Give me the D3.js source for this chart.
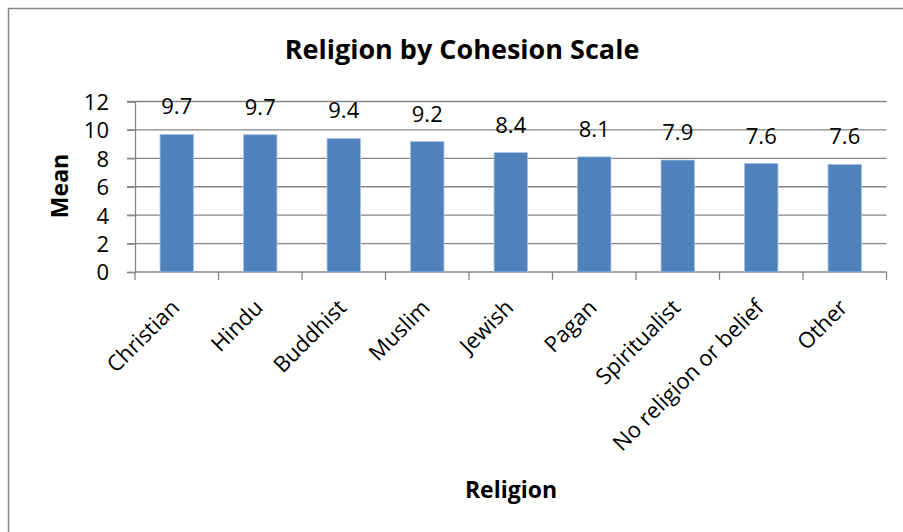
<!DOCTYPE html>
<html>
<head>
<meta charset="utf-8">
<script src="https://cdn.jsdelivr.net/npm/d3@7"></script>
<style>
  body { margin: 0; background: #fff; }
  text { font-family: "Open Sans", sans-serif; fill: #000; }
</style>
</head>
<body>
<div id="chart"></div>
<script>
var religions = ["Christian", "Hindu", "Buddhist", "Muslim", "Jewish", "Pagan", "Spiritualist", "No religion or belief", "Other"];
var means = [9.68, 9.66, 9.4, 9.18, 8.4, 8.1, 7.88, 7.63, 7.57];
var yTicks = [0, 2, 4, 6, 8, 10, 12];

var width = 903, height = 532;
var plot = { left: 135, right: 886.5, top: 101.5, bottom: 272 };

var svg = d3.select("#chart").append("svg")
  .attr("width", width)
  .attr("height", height);

// chart border (runs off the right and bottom edge like the original)
svg.append("rect")
  .attr("x", 8.5).attr("y", 8.5)
  .attr("width", 920).attr("height", 560)
  .attr("fill", "none")
  .attr("stroke", "#868686")
  .attr("stroke-width", 1.5);

var x = d3.scaleBand()
  .domain(religions)
  .range([plot.left, plot.right])
  .paddingInner(0.6)
  .paddingOuter(0.3);

var y = d3.scaleLinear()
  .domain([0, 12])
  .range([plot.bottom, plot.top]);

// gridlines
svg.append("g")
  .selectAll("line")
  .data(yTicks.filter(d => d > 0))
  .join("line")
  .attr("x1", plot.left - 8).attr("x2", plot.right)
  .attr("y1", d => y(d)).attr("y2", d => y(d))
  .attr("stroke", "#868686")
  .attr("stroke-width", 1.3);

// y axis
var yAxis = svg.append("g")
  .attr("transform", "translate(" + plot.left + ",0)")
  .call(d3.axisLeft(y).tickValues(yTicks).tickSize(8).tickPadding(18));
yAxis.select(".domain").attr("stroke", "#868686").attr("stroke-width", 1.3);
yAxis.selectAll(".tick line").attr("stroke", "#868686").attr("stroke-width", 1.3);
yAxis.selectAll(".tick text").style("font-size", "22px").attr("dy", "0.36em");

// x axis, ticks sit between categories
var n = religions.length;
var tickPos = d3.range(n + 1).map(i => plot.left + i * (plot.right - plot.left) / n);
svg.append("line")
  .attr("x1", plot.left).attr("x2", plot.right)
  .attr("y1", plot.bottom).attr("y2", plot.bottom)
  .attr("stroke", "#868686").attr("stroke-width", 1.3);
svg.append("g").selectAll("line")
  .data(tickPos)
  .join("line")
  .attr("x1", d => d).attr("x2", d => d)
  .attr("y1", plot.bottom).attr("y2", plot.bottom + 8)
  .attr("stroke", "#868686").attr("stroke-width", 1.3);

// bars
svg.append("g")
  .selectAll("rect")
  .data(religions)
  .join("rect")
  .attr("x", d => x(d))
  .attr("y", (d, i) => y(means[i]))
  .attr("width", x.bandwidth())
  .attr("height", (d, i) => y(0) - y(means[i]))
  .attr("fill", "#4F81BD")
  .attr("stroke", "#A7C0DE")
  .attr("stroke-width", 0.8);

// data labels
svg.append("g")
  .selectAll("text")
  .data(religions)
  .join("text")
  .attr("x", d => x(d) + x.bandwidth() / 2)
  .attr("y", (d, i) => y(means[i]) - 20)
  .attr("text-anchor", "middle")
  .style("font-size", "22px")
  .text((d, i) => means[i].toFixed(1));

// category labels
svg.append("g")
  .selectAll("text")
  .data(religions)
  .join("text")
  .attr("text-anchor", "end")
  .attr("transform", d => "translate(" + (x(d) + x.bandwidth() / 2 + 4) + "," + (plot.bottom + 37) + ") rotate(-45)")
  .style("font-size", "22px")
  .text(d => d);

// title
svg.append("text")
  .attr("x", 462).attr("y", 59)
  .attr("text-anchor", "middle")
  .style("font-size", "27px")
  .style("font-weight", "bold")
  .text("Religion by Cohesion Scale");

// axis titles
svg.append("text")
  .attr("transform", "translate(68,186) rotate(-90)")
  .attr("text-anchor", "middle")
  .style("font-size", "23px")
  .style("font-weight", "bold")
  .text("Mean");

svg.append("text")
  .attr("x", 511).attr("y", 498)
  .attr("text-anchor", "middle")
  .style("font-size", "23px")
  .style("font-weight", "bold")
  .text("Religion");
</script>
</body>
</html>
